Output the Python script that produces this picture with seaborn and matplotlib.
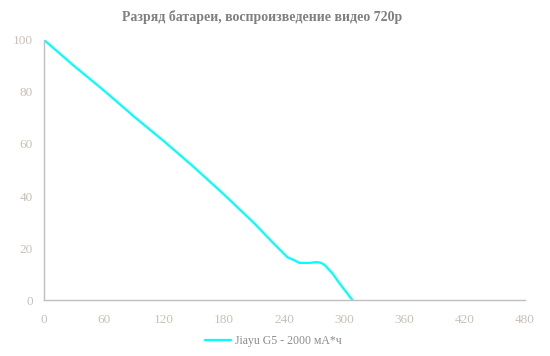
import matplotlib
matplotlib.use("Agg")
import matplotlib.pyplot as plt
import seaborn as sns
import pandas as pd

minutes = [0, 30, 60, 90, 120, 150, 180, 210, 230, 243, 250, 255, 265, 272, 276, 280, 288, 295, 308]
charge = [100, 90, 80.5, 70.5, 61, 51, 40.5, 29.5, 21.5, 16.5, 15.3, 14.3, 14.3, 14.6, 14.4, 13.6, 10.3, 6.5, 0]
series_name = "Jiayu G5 - 2000 мА*ч"
x_ticks = [0, 60, 120, 180, 240, 300, 360, 420, 480]
y_ticks = [0, 20, 40, 60, 80, 100]
title = "Разряд батареи, воспроизведение видео 720р"

df = pd.DataFrame({"min": minutes, "charge": charge, "series": series_name})

sns.set_theme(style="white")
plt.rcParams['font.family'] = ['Liberation Serif', 'DejaVu Serif']

fig = plt.figure(figsize=(5.5, 3.56), dpi=100)
ax = fig.add_axes([0.080, 0.157, 0.874, 0.731])

sns.lineplot(data=df, x="min", y="charge", hue="series", palette=["#00FFFF"],
             linewidth=1.6, ax=ax, legend=True)

ax.set_xlim(0, 480)
ax.set_ylim(0, 100)
ax.set_xticks(x_ticks)
ax.set_yticks(y_ticks)
ax.set_xlabel("")
ax.set_ylabel("")
for s in ["top", "right"]:
    ax.spines[s].set_visible(False)
for s in ["left", "bottom"]:
    ax.spines[s].set_color("#BFBFBF")
    ax.spines[s].set_linewidth(1)
ax.tick_params(axis="both", which="both", length=4, width=1, color="#BFBFBF",
               labelcolor="#C9C0B6", labelsize=9.5, direction="out")
ax.tick_params(axis="x", pad=6)
ax.tick_params(axis="y", pad=4)

fig.text(0.477, 0.952, title, ha="center", va="center", fontsize=10,
         fontweight="bold", color="#7F7F7F")

handles, labels = ax.get_legend_handles_labels()
ax.get_legend().remove()
leg = fig.legend(handles, labels, loc="center", bbox_to_anchor=(0.497, 0.043), frameon=False,
                 fontsize=8.5, handlelength=2.2, handletextpad=0.3)
for t in leg.get_texts():
    t.set_color("#8C8C8C")

fig.savefig("out.png", dpi=100)
